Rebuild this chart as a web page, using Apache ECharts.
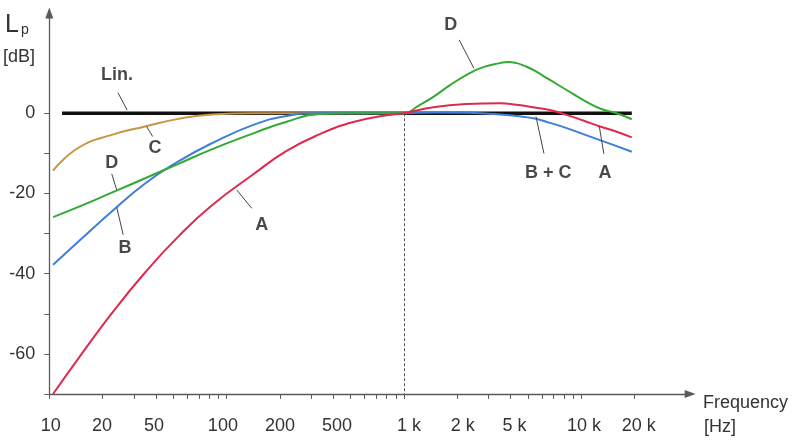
<!DOCTYPE html>
<html><head><meta charset="utf-8">
<script src="https://cdn.jsdelivr.net/npm/echarts@6/dist/echarts.min.js"></script>
<style>html,body{margin:0;padding:0;background:#fff}#c{width:801px;height:448px}</style>
</head><body><div id="c"></div>
<script>
// Frequencies (Hz) at which the curves were read
const freqs  = [10.5, 14.6, 22.5, 34.7, 53.5, 82.4, 141.6, 218, 336, 519, 800, 1000, 1466, 2259, 3483, 4325, 5370, 6668, 8279, 10280, 12764, 15849, 19300];
const curveA = [-70, -61.1, -49.9, -39.7, -30.7, -23.0, -15.2, -9.4, -5.2, -2.2, -0.5, 0, 1.5, 2.3, 2.5, 2.1, 1.5, 0.8, -0.4, -1.8, -3.3, -4.6, -6.0];
const curveB = [-37.8, -32.0, -24.5, -17.5, -12.0, -7.5, -2.9, -0.7, 0, 0, 0, 0, 0.2, 0.1, -0.3, -0.7, -1.25, -2.4, -3.7, -5.2, -6.7, -8.2, -9.6];
const curveC = [-14.3, -8.6, -5.4, -3.3, -1.4, -0.3, 0, 0, 0, 0, 0, 0, null, null, null, null, null, null, null, null, null, null, null];
const freqsD = [10.5, 14.6, 22.5, 34.7, 53.5, 82.4, 141.6, 218, 336, 519, 800, 1000, 1200, 1466, 1820, 2259, 2805, 3483, 3890, 4325, 4800, 5370, 6668, 8279, 10280, 12764, 15849, 19300];
const curveD = [-25.9, -23.35, -19.8, -16.2, -12.6, -9.0, -5.0, -2.1, -0.2, 0, 0, 0, 1.8, 4.1, 7.0, 9.6, 11.5, 12.5, 12.8, 12.5, 11.8, 10.8, 8.3, 5.8, 3.3, 1.2, 0, -1.5];
const linFreq = [11.8, 19300];
const linVal  = [0, 0];

// Axis ticks and labels
const xTickFreqs = [10,20,30,40,50,60,70,80,90,100,200,300,400,500,600,700,800,900,1000,2000,3000,4000,5000,6000,7000,8000,9000,10000,20000];
const xTickLabels = ['10','20','50','100','200','500','1 k','2 k','5 k','10 k','20 k'];
const xTickLabelAt = [10.2, 19.8, 39, 95.3, 200, 419, 1070, 2150, 4210, 10370, 21100];
const yTicks = [-70,-60,-50,-40,-30,-20,-10,0];
const yLabels = [0,-20,-40,-60];

// Curve annotations (Hz, dB)
const annText = ['Lin.','C','D','B','A','D','B + C','A'];
const annFreq = [24.1, 39.5, 22.5, 26.7, 157.8, 1837, 6516, 13614];
const annDb   = [9.55, -8.7, -12.3, -33.7, -27.9, 22.0, -15.0, -15.0];
const leadFrom = [[24.4,5.1],[35.4,-3.3],[22.5,-15.1],[24.0,-23.4],[114,-19.1],[2051,18.3],[5559,-0.8],[12647,-3.2]];
const leadTo   = [[27.5,0.8],[38.3,-5.8],[24.0,-19.1],[26.1,-30.3],[138.6,-23.7],[2483,11.2],[6166,-10.0],[13427,-10.1]];

const FONT = '"Liberation Sans", Arial, sans-serif';
const lg = Math.log10;
const toData = (fs, vs) => fs.map((f, i) => [lg(f), vs[i]]).filter(p => p[1] !== null);

const chart = echarts.init(document.getElementById('c'), null, {renderer: 'canvas'});
const axisColor = '#5a5a5a';

function curve(name, fs, vals, color, width) {
  return {
    name, type: 'line', data: toData(fs, vals), showSymbol: false, smooth: 0.5,
    lineStyle: {color, width}, silent: true, animation: false
  };
}

const option = {
  animation: false,
  grid: {left: 49.3, right: 110.8, top: 13, bottom: 54},
  xAxis: {
    type: 'value', min: 1, max: 4.615,
    axisLine: {onZero: false, lineStyle: {color: axisColor, width: 1.3}, symbol: ['none', 'triangle'], symbolSize: [8, 11]},
    axisTick: {show: true, inside: false, length: 5, lineStyle: {color: axisColor, width: 1}, customValues: xTickFreqs.map(lg)},
    axisLabel: {
      show: true, margin: 23, fontSize: 18, color: '#333', fontFamily: FONT,
      customValues: xTickLabelAt.map(lg),
      formatter: v => { const i = xTickLabelAt.findIndex(f => Math.abs(lg(f) - v) < 1e-6); return i >= 0 ? xTickLabels[i] : ''; }
    },
    splitLine: {show: false}
  },
  yAxis: {
    type: 'value', min: -70, max: 25,
    axisLine: {show: true, onZero: false, lineStyle: {color: axisColor, width: 1.3}, symbol: ['none', 'triangle'], symbolSize: [8, 11]},
    axisTick: {show: true, length: 5, lineStyle: {color: axisColor, width: 1}, customValues: yTicks},
    axisLabel: {show: true, margin: 14, fontSize: 18, color: '#333', fontFamily: FONT, customValues: yLabels, formatter: v => String(v)},
    splitLine: {show: false}
  },
  graphic: [
    {type: 'text', left: 5, top: 13, style: {text: 'L', fontSize: 25, fontFamily: FONT, fill: '#333'}},
    {type: 'text', left: 21, top: 23, style: {text: 'p', fontSize: 14, fontFamily: FONT, fill: '#333'}},
    {type: 'text', left: 3, top: 48, style: {text: '[dB]', fontSize: 18, fontFamily: FONT, fill: '#333'}},
    {type: 'text', left: 703, top: 394, style: {text: 'Frequency', fontSize: 18, fontFamily: FONT, fill: '#333'}},
    {type: 'text', left: 704, top: 418, style: {text: '[Hz]', fontSize: 18, fontFamily: FONT, fill: '#333'}}
  ],
  series: [
    {name: 'Lin.', type: 'line', data: toData(linFreq, linVal), showSymbol: false, lineStyle: {color: '#111', width: 3.5}, silent: true},
    curve('C', freqs, curveC, '#c9953f', 2),
    curve('B', freqs, curveB, '#3d7fd9', 2),
    curve('D', freqsD, curveD, '#33aa33', 2),
    curve('A', freqs, curveA, '#e0294f', 2),
    {
      name: 'annotations', type: 'scatter', symbolSize: 0, silent: true, z: 5,
      data: annText.map((t, i) => ({value: [lg(annFreq[i]), annDb[i]], name: t})),
      label: {show: true, position: 'inside', formatter: p => p.name, fontSize: 18, fontWeight: 'bold', color: '#1a1a1a', fontFamily: FONT},
      markLine: {
        silent: true, symbol: ['none', 'none'], label: {show: false}, animation: false,
        lineStyle: {color: '#444', width: 1, type: 'solid'},
        data: leadFrom.map((a, i) => [{coord: [lg(a[0]), a[1]]}, {coord: [lg(leadTo[i][0]), leadTo[i][1]]}])
          .concat([[{coord: [3, 0], lineStyle: {color: '#555', width: 1, type: [3, 2]}}, {coord: [3, -70]}]])
      }
    }
  ]
};
chart.setOption(option);
</script>
</body></html>
